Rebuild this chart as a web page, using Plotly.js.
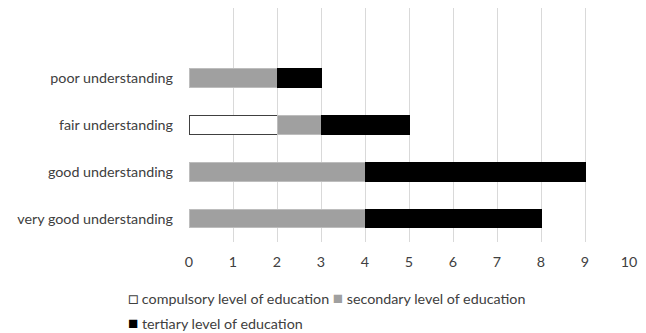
<!DOCTYPE html>
<html>
<head>
<meta charset="utf-8">
<script src="https://cdn.plot.ly/plotly-3.0.1.min.js"></script>
<style>html,body{margin:0;padding:0;background:#fff;}#chart{width:646px;height:333px;}</style>
</head>
<body>
<div id="chart"></div>
<script>
// Categories from bottom to top (top slot is an empty category as in the reference)
var categories = ["very good understanding", "good understanding", "fair understanding", "poor understanding", " "];
var compulsory = [0, 0, 2, 0, null];
var secondary  = [4, 4, 1, 2, null];
var tertiary   = [4, 5, 2, 1, null];
var seriesNames = ["compulsory level of education", "secondary level of education", "tertiary level of education"];
var seriesColors = ["#ffffff", "#a0a0a0", "#000000"];
var xTicks = [0, 1, 2, 3, 4, 5, 6, 7, 8, 9, 10];

var font = "Lato, 'Open Sans', sans-serif";
var textColor = "#404040";
var fs = 14.3;

var traces = [
  {type: "bar", orientation: "h", y: categories, x: compulsory, name: seriesNames[0],
   marker: {color: seriesColors[0], line: {color: "#404040", width: 1}}, width: 0.4},
  {type: "bar", orientation: "h", y: categories, x: secondary, name: seriesNames[1],
   marker: {color: seriesColors[1], line: {color: "#bdbdbd", width: 1}}, width: 0.4},
  {type: "bar", orientation: "h", y: categories, x: tertiary, name: seriesNames[2],
   marker: {color: seriesColors[2], line: {color: "#000000", width: 1}}, width: 0.4}
];

var sq = 'font-size:17px;';
var legendRow1 = '<span style="' + sq + 'color:#404040">□</span> ' + seriesNames[0] +
  ' <span style="' + sq + 'color:' + seriesColors[1] + '">■</span> ' + seriesNames[1];
var legendRow2 = '<span style="' + sq + 'color:' + seriesColors[2] + '">■</span> ' + seriesNames[2];

var layout = {
  width: 646, height: 333,
  margin: {l: 189, r: 17, t: 8, b: 91},
  barmode: "stack",
  showlegend: false,
  paper_bgcolor: "#fff", plot_bgcolor: "#fff",
  font: {family: font, size: fs, color: textColor},
  xaxis: {
    range: [0, 10], tickvals: xTicks, ticktext: xTicks.map(String),
    showgrid: true, gridcolor: "#d9d9d9", gridwidth: 1,
    zeroline: false, showline: false, ticks: "", ticklen: 0, ticklabelstandoff: 10,
    tickfont: {family: font, size: fs, color: textColor}, fixedrange: true
  },
  yaxis: {
    type: "category", categoryorder: "array", categoryarray: categories,
    range: [-0.5, 4.5], showgrid: false, zeroline: false, showline: false,
    ticks: "", ticklabelstandoff: 15,
    tickfont: {family: font, size: fs, color: textColor}, fixedrange: true
  },
  annotations: [
    {xref: "paper", yref: "paper", x: (126 - 189) / 440, y: (242 - 297) / 234,
     xanchor: "left", yanchor: "middle", showarrow: false, align: "left",
     text: legendRow1, font: {family: font, size: fs, color: textColor}},
    {xref: "paper", yref: "paper", x: (126 - 189) / 440, y: (242 - 322) / 234,
     xanchor: "left", yanchor: "middle", showarrow: false, align: "left",
     text: legendRow2, font: {family: font, size: fs, color: textColor}}
  ]
};

Plotly.newPlot("chart", traces, layout, {displayModeBar: false, staticPlot: true});
</script>
</body>
</html>
